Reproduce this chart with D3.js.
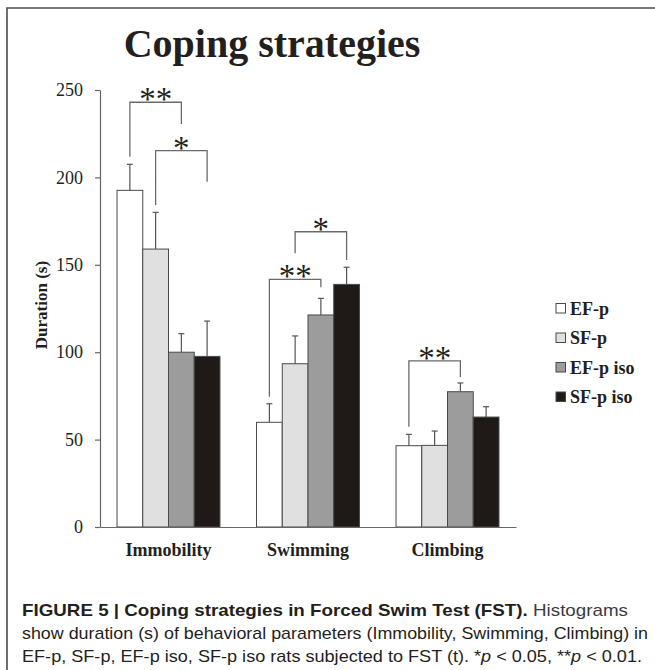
<!DOCTYPE html>
<html>
<head>
<meta charset="utf-8">
<script src="https://cdn.jsdelivr.net/npm/d3@7"></script>
<style>
  body { margin: 0; background: #fff; }
  text { font-family: "Liberation Serif", "Times New Roman", serif; fill: #231f20; }
  .caption text, text.caption { font-family: "Liberation Sans", Arial, sans-serif; }
</style>
</head>
<body>
<svg width="655" height="670"></svg>
<script>
var categories = ["Immobility", "Swimming", "Climbing"];
var groups = ["EF-p", "SF-p", "EF-p iso", "SF-p iso"];
var colors = ["#ffffff", "#e0e0e0", "#9c9c9c", "#1f1a17"];

// means and upper error (s) per category
var efp = [192.6, 59.9, 46.5],    efpErr = [14.9, 10.6, 6.5];
var sfp = [159, 93.4, 46.7],      sfpErr = [21, 15.9, 8.2];
var efpIso = [100, 121.3, 77.4],  efpIsoErr = [10.6, 9.5, 5];
var sfpIso = [97.6, 138.8, 62.9], sfpIsoErr = [20.2, 9.8, 5.9];

var yTicks = [0, 50, 100, 150, 200, 250];

// significance brackets (values in seconds)
var brackets = [
  {cat: "Immobility", from: 0, to: 2, top: 243,   leftEnd: 211.8, rightEnd: 230.5, label: "**"},
  {cat: "Immobility", from: 1, to: 3, top: 215.3, leftEnd: 184.2, rightEnd: 197.5, label: "*"},
  {cat: "Swimming",   from: 1, to: 3, top: 168.9, leftEnd: 156.6, rightEnd: 152.7, label: "*"},
  {cat: "Swimming",   from: 0, to: 2, top: 141.7, leftEnd: 74.5,  rightEnd: 137.1, label: "**"},
  {cat: "Climbing",   from: 0, to: 2, top: 95,    leftEnd: 57.4,  rightEnd: 85.6,  label: "**"}
];

var series = [efp, sfp, efpIso, sfpIso];
var errs = [efpErr, sfpErr, efpIsoErr, sfpIsoErr];

var data = [];
categories.forEach(function(c, i) {
  groups.forEach(function(gname, j) {
    data.push({cat: c, group: gname, gi: j, value: series[j][i], err: errs[j][i]});
  });
});

var svg = d3.select("svg");

// frame (top + left)
svg.append("path")
    .attr("d", "M7,670 L7,8 L655,8")
    .attr("fill", "none")
    .attr("stroke", "#4d4d4d")
    .attr("stroke-width", 1.6);

var y = d3.scaleLinear().domain([0, 250]).range([527, 90]);
var x = d3.scaleBand().domain(categories).range([100, 516]).paddingInner(0.262).paddingOuter(0.122);
var x1 = d3.scaleBand().domain(groups).range([0, x.bandwidth()]);
var color = d3.scaleOrdinal().domain(groups).range(colors);

// title
svg.append("text")
    .attr("x", 272)
    .attr("y", 57)
    .attr("text-anchor", "middle")
    .style("font-size", "40px")
    .style("font-weight", "bold")
    .text("Coping strategies");

// y axis
var yAxis = svg.append("g")
    .attr("class", "axis axis--y")
    .attr("transform", "translate(100,0)")
    .call(d3.axisLeft(y).tickValues(yTicks).tickSize(5).tickSizeOuter(0).tickPadding(12));
yAxis.selectAll("path, line").attr("stroke", "#666").attr("stroke-width", 1.2);
yAxis.selectAll("text").style("font-size", "18px").style("font-family", "Liberation Serif").attr("fill", "#231f20");

svg.append("text")
    .attr("transform", "translate(47,305) rotate(-90)")
    .attr("text-anchor", "middle")
    .style("font-size", "17px")
    .style("font-weight", "bold")
    .text("Duration (s)");

// bars
svg.append("g").selectAll("rect")
    .data(data)
  .enter().append("rect")
    .attr("x", function(d) { return x(d.cat) + x1(d.group); })
    .attr("y", function(d) { return y(d.value); })
    .attr("width", x1.bandwidth())
    .attr("height", function(d) { return y(0) - y(d.value); })
    .attr("fill", function(d) { return color(d.group); })
    .attr("stroke", "#4a4a4a")
    .attr("stroke-width", 1);

// error bars (upper only)
var eb = svg.append("g").attr("stroke", "#555").attr("stroke-width", 1.2);
data.forEach(function(d) {
  var cx = x(d.cat) + x1(d.group) + x1.bandwidth() / 2;
  eb.append("line").attr("x1", cx).attr("x2", cx).attr("y1", y(d.value)).attr("y2", y(d.value + d.err));
  eb.append("line").attr("x1", cx - 3).attr("x2", cx + 3).attr("y1", y(d.value + d.err)).attr("y2", y(d.value + d.err));
});

// x axis
var xAxis = svg.append("g")
    .attr("class", "axis axis--x")
    .attr("transform", "translate(0," + y(0) + ")")
    .call(d3.axisBottom(x).tickSize(0).tickSizeOuter(0).tickPadding(16));
xAxis.select(".domain").attr("stroke", "#666").attr("stroke-width", 1.2);
xAxis.selectAll("text").style("font-size", "18px").style("font-weight", "bold")
    .style("font-family", "Liberation Serif").attr("fill", "#231f20");

// significance brackets
var bg = svg.append("g");
brackets.forEach(function(b) {
  var xl = x(b.cat) + x1(groups[b.from]) + x1.bandwidth() / 2;
  var xr = x(b.cat) + x1(groups[b.to]) + x1.bandwidth() / 2;
  bg.append("path")
      .attr("d", "M" + xl + "," + y(b.leftEnd) + " L" + xl + "," + y(b.top) + " L" + xr + "," + y(b.top) + " L" + xr + "," + y(b.rightEnd))
      .attr("fill", "none")
      .attr("stroke", "#6a6a6a")
      .attr("stroke-width", 1.3);
  bg.append("text")
      .attr("x", (xl + xr) / 2)
      .attr("y", y(b.top) + 8)
      .attr("text-anchor", "middle")
      .style("font-size", "33px")
      .text(b.label);
});

// legend
var legend = svg.append("g").selectAll("g")
    .data(groups)
  .enter().append("g")
    .attr("transform", function(d, i) { return "translate(556," + (308.5 + i * 29.5) + ")"; });
legend.append("rect")
    .attr("x", 0).attr("y", -5).attr("width", 9.5).attr("height", 9.5)
    .attr("fill", function(d) { return color(d); })
    .attr("stroke", "#4a4a4a").attr("stroke-width", 1);
legend.append("text")
    .attr("x", 14)
    .attr("dy", "0.35em")
    .style("font-size", "18px")
    .style("font-weight", "bold")
    .text(function(d) { return d; });

// caption
var cap = svg.append("g").attr("class", "caption");
var l1 = cap.append("text").attr("x", 22).attr("y", 616).attr("textLength", 606).attr("lengthAdjust", "spacingAndGlyphs").style("font-size", "17px");
l1.append("tspan").style("font-weight", "bold").attr("fill", "#231f20").text("FIGURE 5 | Coping strategies in Forced Swim Test (FST).");
l1.append("tspan").attr("fill", "#3c3c3c").text(" Histograms");
cap.append("text").attr("x", 22).attr("y", 639).attr("textLength", 626).attr("lengthAdjust", "spacingAndGlyphs")
    .style("font-size", "17px").attr("fill", "#3c3c3c")
    .text("show duration (s) of behavioral parameters (Immobility, Swimming, Climbing) in");
var l3 = cap.append("text").attr("x", 22).attr("y", 662).attr("textLength", 620).attr("lengthAdjust", "spacingAndGlyphs")
    .style("font-size", "17px").attr("fill", "#3c3c3c");
l3.append("tspan").text("EF-p, SF-p, EF-p iso, SF-p iso rats subjected to FST (t). *");
l3.append("tspan").style("font-style", "italic").text("p");
l3.append("tspan").text(" < 0.05, **");
l3.append("tspan").style("font-style", "italic").text("p");
l3.append("tspan").text(" < 0.01.");
</script>
</body>
</html>
